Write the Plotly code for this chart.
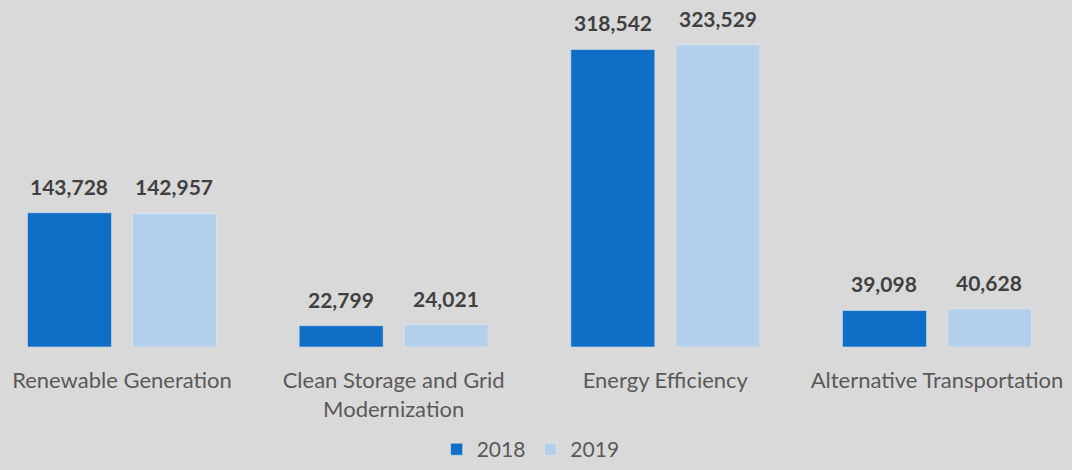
import plotly.graph_objects as go

categories = ["Renewable Generation", "Clean Storage and Grid<br>Modernization",
              "Energy Efficiency", "Alternative Transportation"]
values_2018 = [143728, 22799, 318542, 39098]
values_2019 = [142957, 24021, 323529, 40628]

bg = "#d9d9d9"
label_font = dict(size=21, color="#404040", family="Lato", weight="bold")

fig = go.Figure()
fig.add_trace(go.Bar(name="2018", x=categories, y=values_2018, marker_color="#0f6fc6"))
fig.add_trace(go.Bar(name="2019", x=categories, y=values_2019, marker_color="#b4cfec"))

# value labels above each bar
for vals, shift in [(values_2018, -52.5), (values_2019, 52.5)]:
    for cat, v in zip(categories, vals):
        fig.add_annotation(x=cat, y=v, text=f"{v:,}", showarrow=False,
                           xshift=shift, yshift=12, yanchor="bottom",
                           font=label_font)

fig.update_layout(
    width=1072, height=470,
    barmode="group", bargap=0.227, bargroupgap=0.2,
    paper_bgcolor=bg, plot_bgcolor=bg,
    margin=dict(l=0, r=0, t=20, b=123),
    font=dict(family="Lato", color="#595959", size=22),
    showlegend=True,
    legend=dict(orientation="h", x=0.495, xanchor="center",
                yref="container", y=0.0, yanchor="bottom",
                font=dict(size=21, color="#595959")),
)
fig.update_xaxes(range=[-0.449, 3.497], showgrid=False, showline=False,
                 automargin=False, ticks="outside", ticklen=14, tickcolor=bg,
                 tickfont=dict(size=22, color="#595959"))
fig.update_yaxes(range=[0, 350000], visible=False, automargin=False)

fig.write_html("out.html", config={"displayModeBar": False},
               post_script="document.body.style.margin='0';document.body.style.background='#d9d9d9';")
